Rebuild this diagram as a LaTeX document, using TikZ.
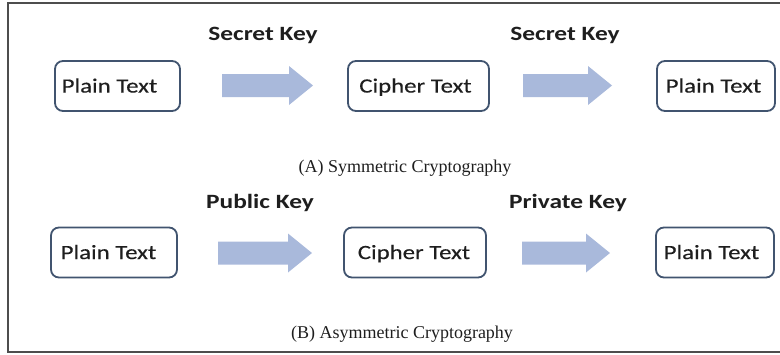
\documentclass[tikz,border=0pt]{standalone}
\usepackage{fontspec}
\setmainfont{Liberation Serif}
\newfontfamily\boxfont[FakeStretch=1.22,FakeBold=0.3]{Carlito}
\newfontfamily\keyfont[FakeStretch=1.25]{Carlito}
\definecolor{boxc}{HTML}{41546F}
\definecolor{arrc}{HTML}{A9B9DB}
\definecolor{txt}{HTML}{1E1E1E}
\definecolor{framec}{HTML}{4D4D4D}
\newcommand\blockarr[3]{\fill[blockarrow] (#1,#3-11.5) -- (#2-24,#3-11.5) -- (#2-24,#3-19.5) -- (#2,#3) -- (#2-24,#3+19.5) -- (#2-24,#3+11.5) -- (#1,#3+11.5) -- cycle;}
\begin{document}
\begin{tikzpicture}[x=1pt,y=-1pt,
  box/.style={draw=boxc, line width=1.8pt, rounded corners=8pt, fill=white,
    minimum height=50pt, inner sep=0pt, text height=13.1pt, text depth=0pt,
    font=\boxfont\fontsize{20.3}{23}\selectfont, text=txt},
  keylabel/.style={anchor=base, text=txt, font=\keyfont\bfseries\fontsize{20.3}{23}\selectfont},
  caption/.style={anchor=base, text=txt, font=\fontsize{18}{21}\selectfont},
  blockarrow/.style={fill=arrc},
  frame/.style={draw=framec, line width=1.5pt}]
\useasboundingbox (0,0) rectangle (780,354);
\draw[frame] (782,3) -- (8,3) -- (8,352) -- (782,352);
% row A
\node[box, minimum width=125pt] (p1) at (117.5,86) {\hspace*{-16pt}Plain Text};
\node[box, minimum width=141pt] (c1) at (418.5,86) {\hspace*{-6pt}Cipher Text};
\node[box, minimum width=118pt] (q1) at (716,86) {\hspace*{-5pt}Plain Text};
\blockarr{222}{313}{85.5}
\blockarr{523}{612}{85.5}
\node[keylabel] (k1) at (263,40) {Secret Key};
\node[keylabel] (k2) at (565,40) {Secret Key};
\node[caption] (capA) at (405,172) {(A) Symmetric Cryptography};
% row B
\node[box, minimum width=126pt] (p2) at (114,252.5) {\hspace*{-11pt}Plain Text};
\node[box, minimum width=142pt] (c2) at (415,252.5) {\hspace*{-2pt}Cipher Text};
\node[box, minimum width=118pt] (q2) at (715,252.5) {\hspace*{-7pt}Plain Text};
\blockarr{218}{312}{253}
\blockarr{522}{610}{253}
\node[keylabel] (k3) at (260,208) {Public Key};
\node[keylabel] (k4) at (568,208) {Private Key};
\node[caption] (capB) at (402,338.5) {(B) Asymmetric Cryptography};
\end{tikzpicture}
\end{document}
